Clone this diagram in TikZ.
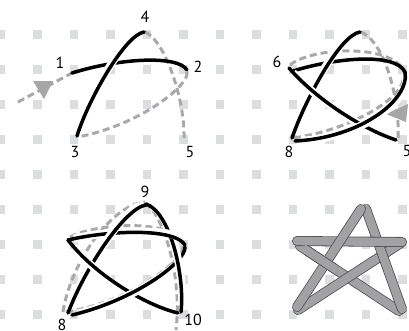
\documentclass[tikz,border=0pt]{standalone}
\usepackage{fontspec}
\setmainfont{PT Sans}
\definecolor{sqgray}{HTML}{DCDDDF}
\definecolor{dgray}{HTML}{A9A9AB}
\definecolor{tgray}{HTML}{A6A6A8}
\definecolor{sfill}{HTML}{A2A2A5}
\definecolor{sdark}{HTML}{505052}
\newcommand\ovstroke[1]{\draw[casing] #1; \draw[blk] #1;}
\newcommand\stick[2]{\draw[stickout] #1 -- #2; \draw[stickin] #1 -- #2;}
\begin{document}
\begin{tikzpicture}[x=1pt,y=-1pt,
  blk/.style={line width=3.5pt, line cap=round, black},
  casing/.style={line width=8pt, white, line cap=butt, shorten <=6pt, shorten >=6pt},
  dsh/.style={line width=3pt, dash pattern=on 7pt off 4pt, dgray},
  lbl/.style={font=\fontsize{16}{16}\selectfont, inner sep=0pt},
  tri/.style={fill=tgray, draw=none},
  stickout/.style={line width=10pt, line cap=round, sdark},
  stickin/.style={line width=8.4pt, line cap=round, sfill}]
\useasboundingbox (0,0) rectangle (409,330);
% grid of squares
\foreach \i in {0,...,11}
  \foreach \j in {0,...,8}
    \fill[sqgray] ({1+36.5*\i-4.25},{34.5+35*\j-4.25}) rectangle +(8.5,8.5);

% ---------- panel 1 ----------
\draw[dsh] (18,102) -- (72,73);
\fill[tri] (33,81) -- (53,81) -- (44,99) -- cycle;
\draw[dsh] (187,72) .. controls (190,85) and (140,125) .. (78,137);
\draw[dsh] (145,32) .. controls (165,40) and (185,100) .. (184,138);
\draw[blk] (72,73) .. controls (120,58) and (178,55) .. (187,70);
\ovstroke{(77,136) .. controls (88,100) and (125,35) .. (144,32)}
\node[lbl] (a1) at (60,63) {1};
\node[lbl] (a2) at (198,67) {2};
\node[lbl] (a3) at (75,152) {3};
\node[lbl] (a4) at (145,17) {4};
\node[lbl] (a5) at (190,152) {5};

% ---------- panel 2 ----------
\draw[dsh] (290,65) .. controls (310,48) and (390,42) .. (405,72);
\draw[dsh] (403,80) .. controls (400,100) and (350,130) .. (293,138);
\draw[dsh] (361,32) .. controls (385,42) and (400,100) .. (398,138);
\fill[tri] (386,114) -- (408,104) -- (406,122) -- cycle;
\draw[blk] (293,71) .. controls (335,58) and (395,52) .. (405,72);
\ovstroke{(292,138) .. controls (305,100) and (340,35) .. (360,32)}
\ovstroke{(396,140) .. controls (360,128) and (315,98) .. (289,68)}
\ovstroke{(405,72) .. controls (410,100) and (360,138) .. (295,141)}
\node[lbl] (b6) at (277,62) {6};
\node[lbl] (b8) at (289,152) {8};
\node[lbl] (b5) at (407,151) {5};

% ---------- panel 3 ----------
\draw[dsh] (63,312) .. controls (70,265) and (110,205) .. (145,202);
\draw[dsh] (145,203) .. controls (160,210) and (183,270) .. (176,330);
\draw[dsh] (70,237) .. controls (100,222) and (170,220) .. (185,242);
\draw[dsh] (66,312) .. controls (130,302) and (186,260) .. (183,245);
\draw[blk] (178,313) .. controls (145,305) and (95,275) .. (68,240);
\ovstroke{(185,247) .. controls (186,262) and (135,300) .. (72,315)}
\ovstroke{(146,204) .. controls (170,212) and (185,275) .. (181,312)}
\ovstroke{(68,240) .. controls (110,230) and (175,228) .. (185,245)}
\ovstroke{(68,313) .. controls (85,268) and (125,208) .. (146,205)}
\begin{scope}
  \clip (75,245) rectangle (112,285);
  \ovstroke{(178,313) .. controls (145,305) and (95,275) .. (68,240)}
\end{scope}
\node[lbl] (c9) at (145,192) {9};
\node[lbl] (c8) at (62,325) {8};
\node[lbl] (c10) at (193,320) {10};

% ---------- panel 4 ----------
\stick{(300,246)}{(399,311)}
\stick{(298,310)}{(401,243)}
\stick{(366,209)}{(402,309)}
\stick{(297,241)}{(402,242)}
\stick{(297,307)}{(361,209)}
\begin{scope}
  \clip (305,245) rectangle (337,285);
  \stick{(300,246)}{(399,311)}
\end{scope}
\end{tikzpicture}
\end{document}
